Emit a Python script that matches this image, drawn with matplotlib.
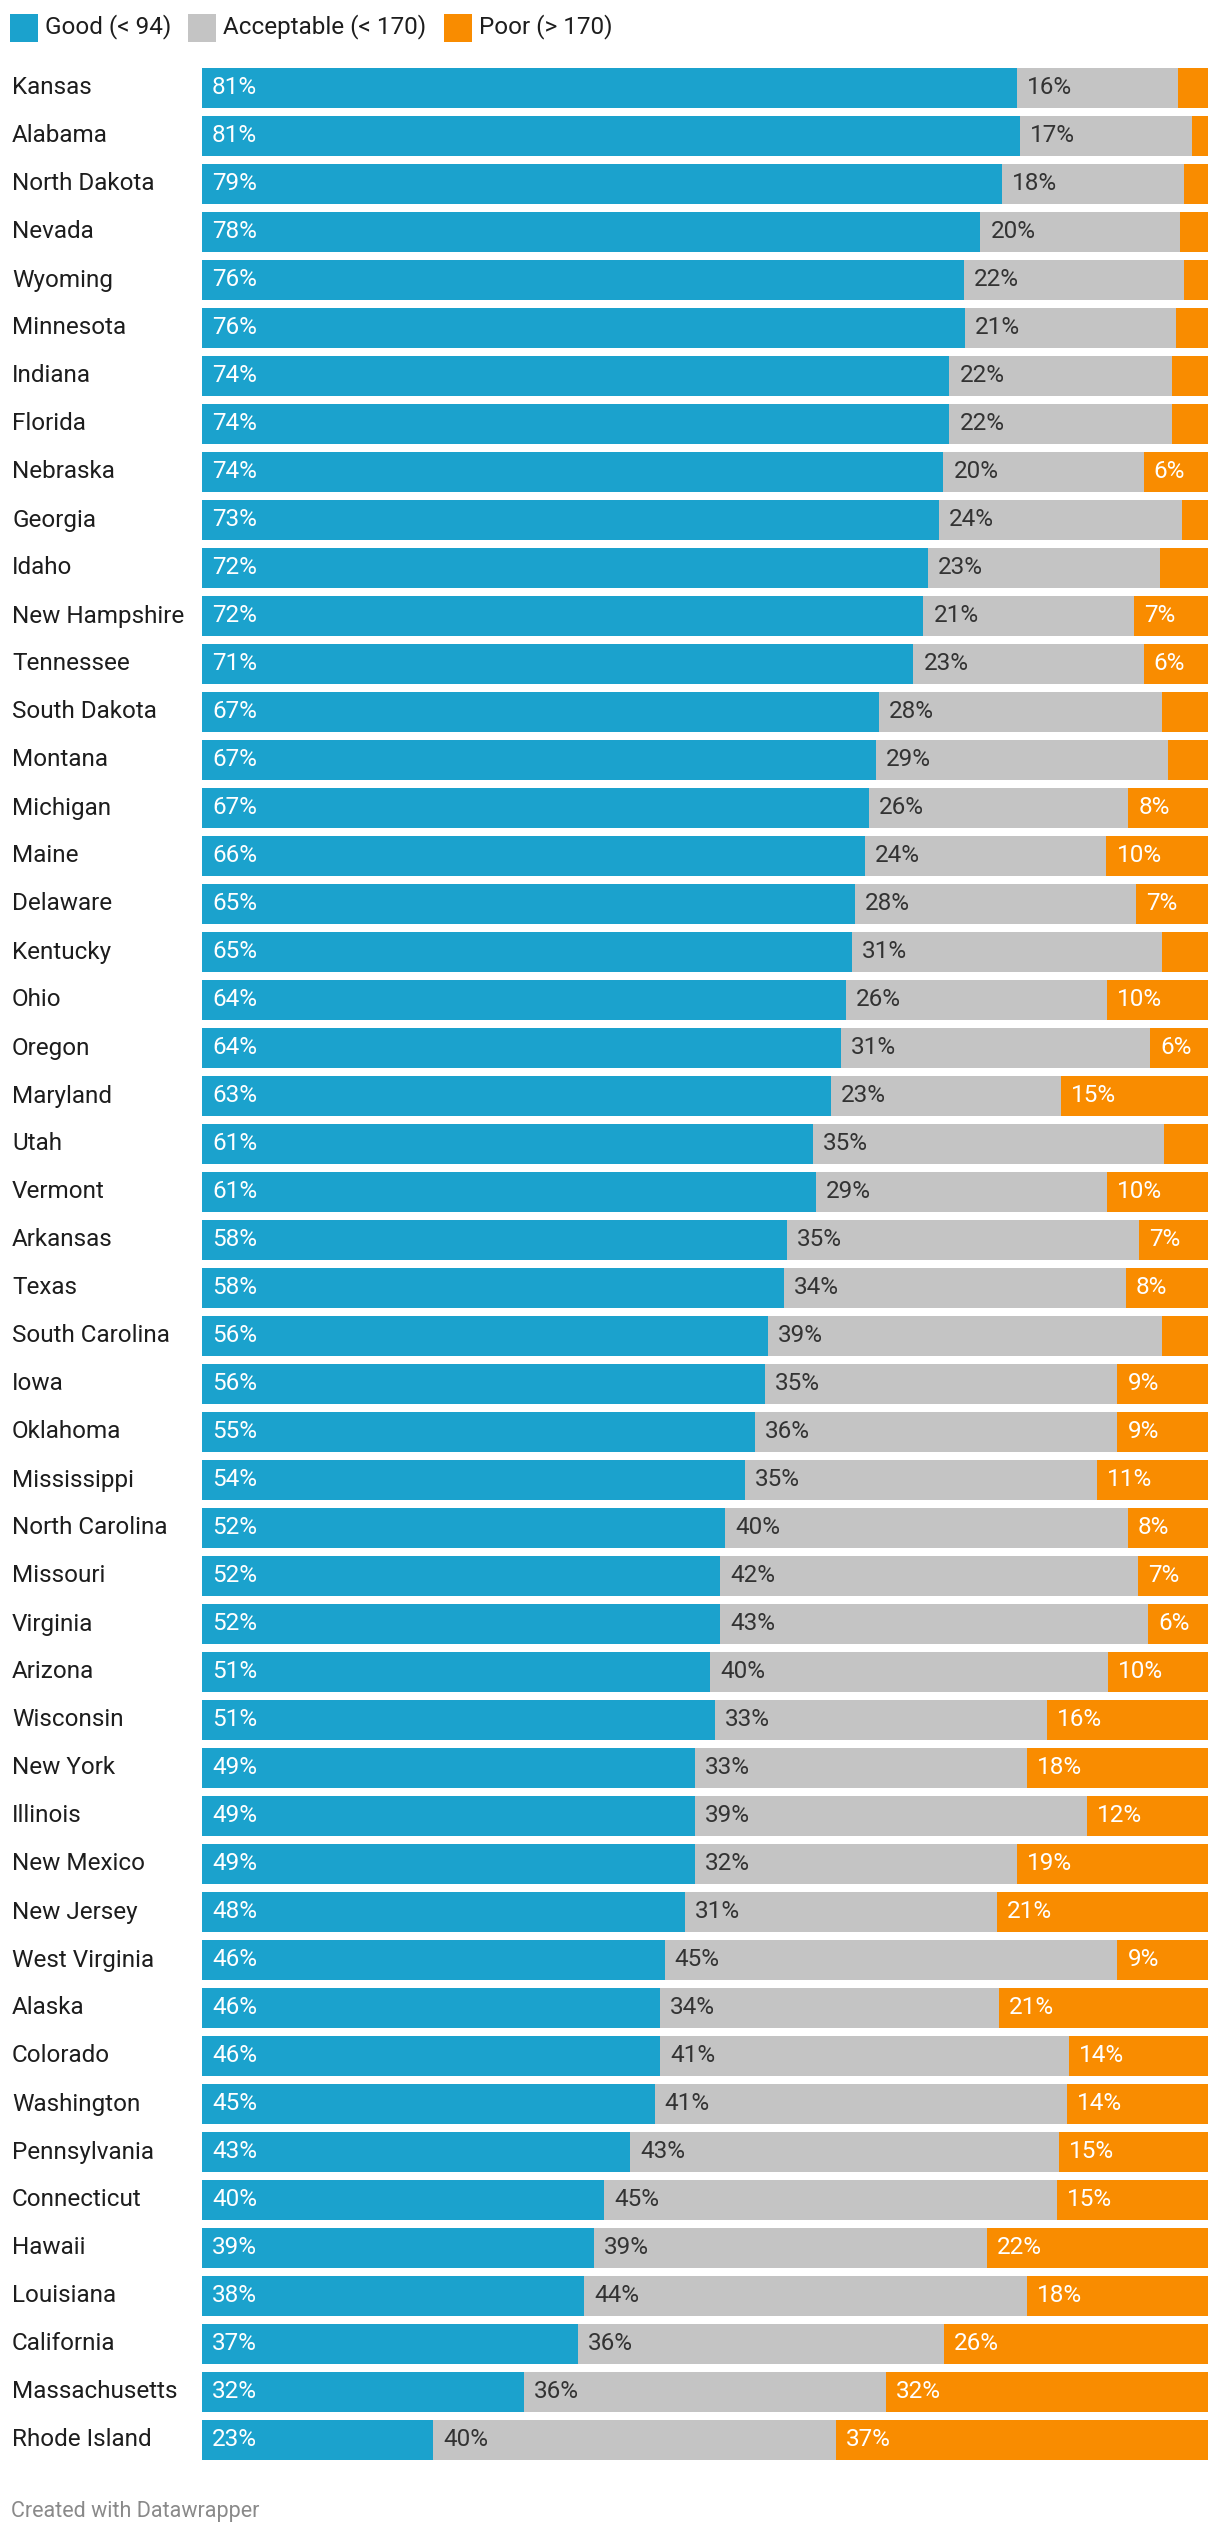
import matplotlib
matplotlib.use("Agg")
import matplotlib.pyplot as plt
import numpy as np
from matplotlib.patches import Rectangle

plt.rcParams["font.family"] = ["Roboto", "DejaVu Sans"]

# --- data (share of ratings per state, %) ---
states = [
    "Kansas", "Alabama", "North Dakota", "Nevada", "Wyoming", "Minnesota",
    "Indiana", "Florida", "Nebraska", "Georgia", "Idaho", "New Hampshire",
    "Tennessee", "South Dakota", "Montana", "Michigan", "Maine", "Delaware",
    "Kentucky", "Ohio", "Oregon", "Maryland", "Utah", "Vermont", "Arkansas",
    "Texas", "South Carolina", "Iowa", "Oklahoma", "Mississippi",
    "North Carolina", "Missouri", "Virginia", "Arizona", "Wisconsin",
    "New York", "Illinois", "New Mexico", "New Jersey", "West Virginia",
    "Alaska", "Colorado", "Washington", "Pennsylvania", "Connecticut",
    "Hawaii", "Louisiana", "California", "Massachusetts", "Rhode Island",
]
good = [81, 81, 79, 78, 76, 76, 74, 74, 74, 73, 72, 72, 71, 67, 67, 67, 66,
        65, 65, 64, 64, 63, 61, 61, 58, 58, 56, 56, 55, 54, 52, 52, 52, 51,
        51, 49, 49, 49, 48, 46, 46, 46, 45, 43, 40, 39, 38, 37, 32, 23]
acceptable = [16, 17, 18, 20, 22, 21, 22, 22, 20, 24, 23, 21, 23, 28, 29, 26,
              24, 28, 31, 26, 31, 23, 35, 29, 35, 34, 39, 35, 36, 35, 40, 42,
              43, 40, 33, 33, 39, 32, 31, 45, 34, 41, 41, 43, 45, 39, 44, 36,
              36, 40]
poor = [3.0, 1.6, 2.4, 2.8, 2.4, 3.2, 3.6, 3.6, 6.4, 2.6, 4.8, 7.4, 6.4, 4.6,
        4.0, 8.0, 10.1, 7.2, 4.6, 10.0, 5.8, 14.7, 4.4, 10.0, 6.8, 8.2, 4.6,
        9, 9, 11, 8, 7, 6, 10, 16, 18, 12, 19, 21, 9, 21, 14, 14, 15, 15, 22,
        18, 26, 32, 37]

series_names = ["Good (< 94)", "Acceptable (< 170)", "Poor (> 170)"]
colors = ["#1ba2cd", "#c4c4c4", "#f98c00"]
label_colors = ["white", "#333333", "white"]

W, H = 1220, 2538
fig = plt.figure(figsize=(W / 100, H / 100), dpi=100)

# bars area: x 202..1208 px, y 68..2460 px
ax = fig.add_axes([202 / W, 1 - 2460 / H, (1208 - 202) / W, (2460 - 68) / H])
ax.axis("off")

n = len(states)
y = np.arange(n)
vals = np.array([good, acceptable, poor], dtype=float)
vals = vals / vals.sum(axis=0) * 100  # stacked to 100 %
raw = [good, acceptable, poor]

left = np.zeros(n)
for k in range(3):
    ax.barh(y, vals[k], left=left, height=40 / 48, color=colors[k],
            linewidth=0)
    for i in range(n):
        if vals[k][i] < 5.5:
            continue
        ax.annotate("%d%%" % round(raw[k][i]), (left[i], y[i]),
                    xytext=(10, 0), textcoords="offset pixels",
                    ha="left", va="center", fontsize=17.5,
                    color=label_colors[k])
    left += vals[k]

ax.set_xlim(0, 100)
ax.set_ylim(n - 1 + 20 / 48, -20 / 48)

# state names
for i, s in enumerate(states):
    ax.annotate(s, (0, y[i]), xycoords=("figure pixels", "data"),
                xytext=(12, 0), textcoords="offset pixels",
                ha="left", va="center", fontsize=17.5, color="#1d1d1d")

# legend
leg_x = [10, 188, 444]
for k in range(3):
    fig.add_artist(Rectangle((leg_x[k] / W, 1 - 42 / H), 28 / W, 28 / H,
                             transform=fig.transFigure, color=colors[k],
                             linewidth=0))
    fig.text((leg_x[k] + 35) / W, 1 - 27 / H, series_names[k],
             ha="left", va="center", fontsize=17.5, color="#1d1d1d")

fig.text(11 / W, 1 - 2512 / H, "Created with Datawrapper", ha="left",
         va="center", fontsize=15.5, color="#8a8a8a")

fig.savefig("out.png", dpi=100, facecolor="white")
